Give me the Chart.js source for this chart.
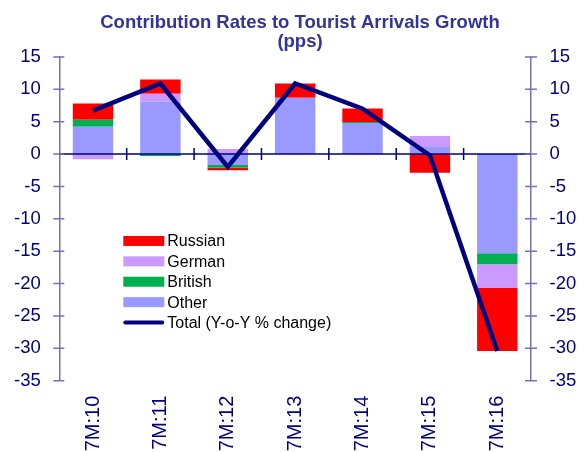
<!DOCTYPE html>
<html>
<head>
<meta charset="utf-8">
<script src="https://cdn.jsdelivr.net/npm/chart.js@4.4.1/dist/chart.umd.min.js"></script>
<style>
  body { margin: 0; background: #fff; }
  #wrap { width: 586px; height: 452px; }
</style>
</head>
<body>
<div id="wrap"><canvas id="myChart" width="586" height="452"></canvas></div>
<script>
const categories = ['7M:10', '7M:11', '7M:12', '7M:13', '7M:14', '7M:15', '7M:16'];
const other   = [4.2, 8.1, -1.7, 8.7, 4.8, 1.2, -15.3];
const british = [1.1, -0.3, -0.4, 0, 0.15, 0, -1.7];
const german  = [-0.8, 1.2, 0.8, 0, 0, 1.6, -3.7];
const russian = [2.5, 2.2, -0.4, 2.2, 2.1, -2.9, -9.7];
const total   = [6.7, 10.9, -2.0, 10.9, 7.0, -0.2, -30.4];
const yTicks  = [15, 10, 5, 0, -5, -10, -15, -20, -25, -30, -35];

const navy = '#000080';
const axisColor = '#7272b8';
const font = "'Liberation Sans', Arial, sans-serif";

// axis line at zero, category ticks, and crossing ticks on both y axes
const axisMarks = {
  id: 'axisMarks',
  afterLayout(chart) {
    // title sits a little right of the canvas centre in the original
    chart.titleBlock.left += 14;
  },
  beforeDatasetDraw(chart, args) {
    if (args.meta.type !== 'line') return;
    const { ctx, chartArea: a } = chart;
    const y = chart.scales.y, x = chart.scales.x;
    const y0 = y.getPixelForValue(0);
    ctx.save();
    ctx.strokeStyle = navy;
    ctx.lineWidth = 1.5;
    ctx.beginPath();
    ctx.moveTo(a.left, y0);
    ctx.lineTo(a.right, y0);
    for (let i = 1; i < categories.length; i++) {
      const bx = (x.getPixelForValue(i - 1) + x.getPixelForValue(i)) / 2;
      ctx.moveTo(bx, y0 - 6);
      ctx.lineTo(bx, y0 + 6);
    }
    ctx.stroke();
    ctx.restore();
  },
  afterDraw(chart) {
    const { ctx, chartArea: a } = chart;
    ctx.save();
    ctx.strokeStyle = axisColor;
    ctx.lineWidth = 1.5;
    ctx.beginPath();
    yTicks.forEach(v => {
      const py = chart.scales.y.getPixelForValue(v);
      ctx.moveTo(a.left - 6, py);
      ctx.lineTo(a.left + 5, py);
      ctx.moveTo(a.right - 6, py);
      ctx.lineTo(a.right + 6, py);
    });
    ctx.stroke();
    ctx.restore();
  }
};

// legend drawn inside the plot
const innerLegend = {
  id: 'innerLegend',
  afterDraw(chart) {
    const { ctx, chartArea: a } = chart;
    const sets = chart.data.datasets;
    const items = sets.filter(d => d.type !== 'line').reverse()
      .concat(sets.filter(d => d.type === 'line'));
    const sx = a.left + 64, sw = 41;
    let sy = a.top + 184;
    ctx.save();
    ctx.font = '16px ' + font;
    ctx.textBaseline = 'middle';
    items.forEach(d => {
      if (d.type === 'line') {
        ctx.strokeStyle = d.borderColor;
        ctx.lineWidth = 4;
        ctx.lineCap = 'round';
        ctx.beginPath();
        ctx.moveTo(sx + 2, sy);
        ctx.lineTo(sx + sw - 2, sy);
        ctx.stroke();
      } else {
        ctx.fillStyle = d.backgroundColor;
        ctx.fillRect(sx, sy - 5, sw, 10);
      }
      ctx.fillStyle = '#000';
      ctx.fillText(d.label, sx + sw + 3, sy + 1);
      sy += 20.4;
    });
    ctx.restore();
  }
};

const bar = (label, data, color) => ({
  type: 'bar', label, data, backgroundColor: color,
  stack: 'parts', order: 1, barPercentage: 0.6, categoryPercentage: 1
});

const yAxis = (position) => ({
  position,
  stacked: true,
  min: -35, max: 15,
  grid: { display: false, drawTicks: false },
  border: { display: true, color: axisColor, width: 1.5 },
  ticks: {
    stepSize: 5, padding: 18.5, color: navy,
    font: { family: font, size: 18.5 }
  },
  afterFit(scale) { scale.width = position === 'left' ? 53.3 : 49; }
});

new Chart(document.getElementById('myChart'), {
  data: {
    labels: categories,
    datasets: [
      {
        type: 'line', label: 'Total (Y-o-Y % change)', data: total,
        borderColor: navy, borderWidth: 4.5, pointRadius: 0,
        tension: 0, stack: 'total', order: 0, yAxisID: 'y'
      },
      bar('Other', other, '#9999ff'),
      bar('British', british, '#00b050'),
      bar('German', german, '#cc99ff'),
      bar('Russian', russian, '#ff0000')
    ]
  },
  options: {
    responsive: false,
    animation: false,
    layout: { padding: { left: 6, right: 6, top: 0, bottom: 0 } },
    plugins: {
      legend: { display: false },
      tooltip: { enabled: false },
      title: {
        display: true,
        text: ['Contribution Rates to Tourist Arrivals Growth', '(pps)'],
        color: '#333399',
        font: { family: font, size: 18.5, weight: 'bold', lineHeight: 1.02 },
        padding: { top: 13.5, bottom: 5.7 }
      }
    },
    scales: {
      x: {
        stacked: true,
        grid: { display: false, drawTicks: false },
        border: { display: false },
        ticks: {
          autoSkip: false, minRotation: 90, maxRotation: 90, padding: 15,
          color: navy, font: { family: font, size: 20 }
        },
        afterFit(scale) { scale.height = 71.3; }
      },
      y: yAxis('left'),
      y2: yAxis('right')
    }
  },
  plugins: [axisMarks, innerLegend]
});
</script>
</body>
</html>
